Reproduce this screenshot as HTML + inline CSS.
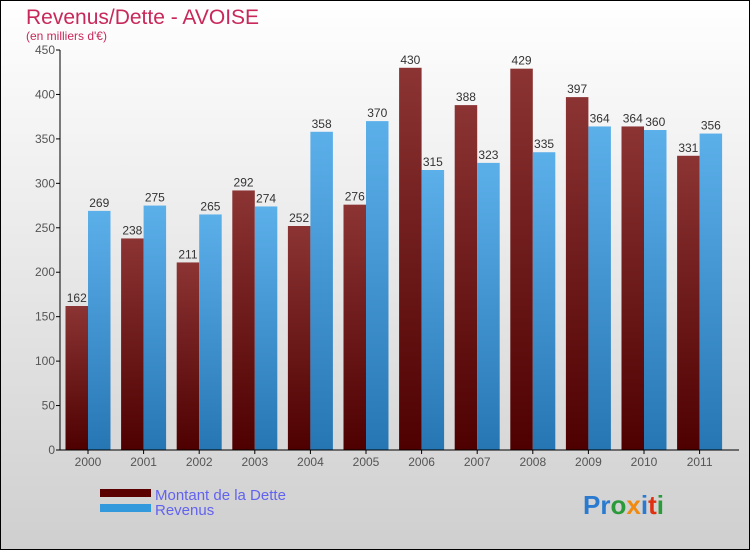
<!DOCTYPE html>
<html><head><meta charset="utf-8"><style>
body{margin:0;}
svg{display:block;font-family:"Liberation Sans",sans-serif;}
</style></head><body>
<svg width="750" height="550" viewBox="0 0 750 550">
<defs>
<linearGradient id="bg" x1="0" y1="0" x2="0" y2="1"><stop offset="0" stop-color="#ffffff"/><stop offset="1" stop-color="#cfcfcf"/></linearGradient>
<linearGradient id="gd" x1="0" y1="0" x2="0" y2="1"><stop offset="0" stop-color="#8c3434"/><stop offset="1" stop-color="#4e0000"/></linearGradient>
<linearGradient id="gr" x1="0" y1="0" x2="0" y2="1"><stop offset="0" stop-color="#5cb0ea"/><stop offset="1" stop-color="#2676b4"/></linearGradient>
</defs>
<rect x="0.5" y="0.5" width="749" height="549" fill="url(#bg)" stroke="#000"/>
<text x="26" y="24" font-size="21" fill="#c8285a">Revenus/Dette - AVOISE</text>
<text x="26" y="40" font-size="12" fill="#c8285a">(en milliers d'€)</text>
<g id="plot"></g>
<rect x="100" y="489" width="51" height="8" fill="#5a0000"/>
<text x="155" y="500" font-size="15" fill="#6262f0">Montant de la Dette</text>
<rect x="100" y="504" width="51" height="8" fill="#3399dd"/>
<text x="155" y="515" font-size="15" fill="#6262f0">Revenus</text>
<text x="583" y="514" font-size="26" font-weight="bold"><tspan fill="#2a7ad0">Pr</tspan><tspan fill="#2a9a3a">o</tspan><tspan fill="#f08a10">x</tspan><tspan fill="#2a7ad0">i</tspan><tspan fill="#e03010">t</tspan><tspan fill="#2a9a3a">i</tspan></text>
</svg>
<script>
const years=["2000","2001","2002","2003","2004","2005","2006","2007","2008","2009","2010","2011"];
const dette=[162,238,211,292,252,276,430,388,429,397,364,331];
const revenus=[269,275,265,274,358,370,315,323,335,364,360,356];
const yTicks=[0,50,100,150,200,250,300,350,400,450];
const NS="http://www.w3.org/2000/svg";
const plot=document.getElementById('plot');
const x0=60,groupW=55.6,y0=450,yMax=450,plotH=400;
const y=v=>y0-v/yMax*plotH;
function mk(tag,attrs,parent){const e=document.createElementNS(NS,tag);for(const k in attrs)e.setAttribute(k,attrs[k]);(parent||plot).appendChild(e);return e;}
yTicks.forEach(t=>{
  const l=mk('line',{x1:x0-4,x2:x0,y1:y(t),y2:y(t),stroke:'#000'});
  
  
  const tx=mk('text',{x:x0-5,y:y(t)+4,'font-size':12,'text-anchor':'end',fill:'#555'});
  tx.textContent=t;
  
  
});
years.forEach((yr,i)=>{
  const gx=x0+i*groupW+5.5;
  const bw=22.5;
  const b1=mk('rect',{x:gx,y:y(dette[i]),width:bw,height:y0-y(dette[i]),fill:'url(#gd)'});
  
  
  const b2=mk('rect',{x:gx+bw,y:y(revenus[i]),width:bw,height:y0-y(revenus[i]),fill:'url(#gr)'});
  
  
  const t1=mk('text',{x:gx+bw/2,y:y(dette[i])-4,'font-size':12,'text-anchor':'middle',fill:'#333'});
  t1.textContent=dette[i];
  
  
  const t2=mk('text',{x:gx+bw*1.5,y:y(revenus[i])-4,'font-size':12,'text-anchor':'middle',fill:'#333'});
  t2.textContent=revenus[i];
  
  
  const xl=mk('text',{x:gx+bw,y:y0+16,'font-size':12,'text-anchor':'middle',fill:'#555'});
  xl.textContent=yr;
  
  
  const tk=mk('line',{x1:gx+bw,x2:gx+bw,y1:y0,y2:y0+4,stroke:'#000'});
  
  
});
const ya=mk('line',{x1:x0,x2:x0,y1:y(yMax),y2:y0,stroke:'#000'});


const xa=mk('line',{x1:x0,x2:739,y1:y0,y2:y0,stroke:'#000'});


</script>
</body></html>
